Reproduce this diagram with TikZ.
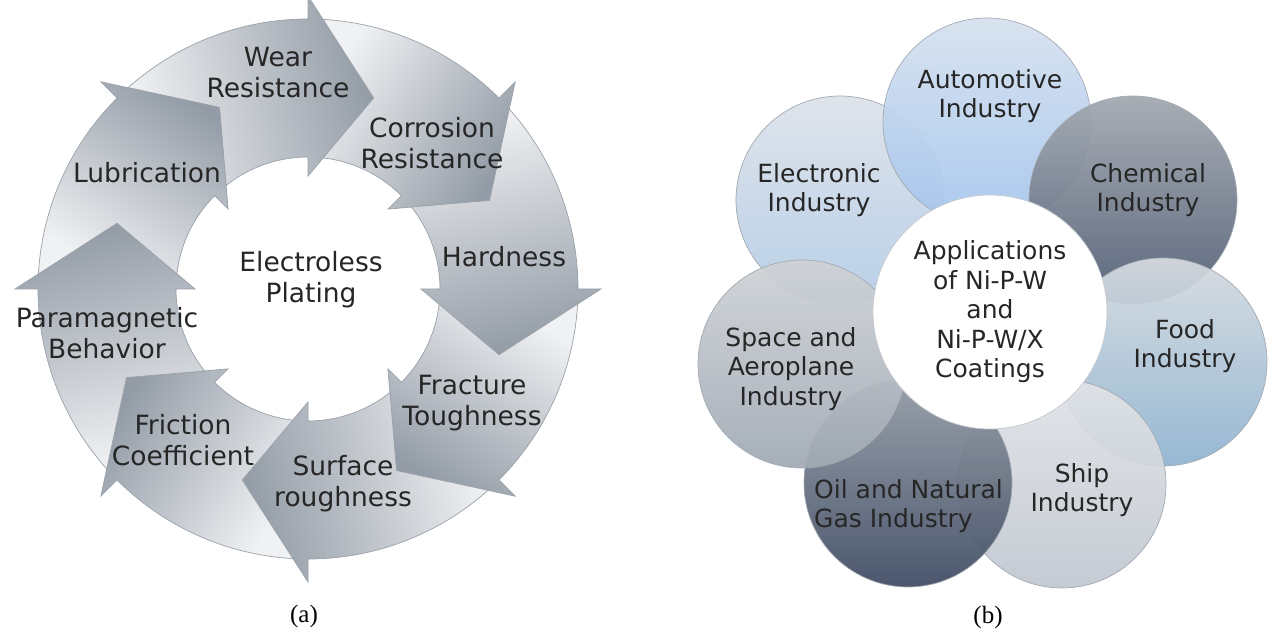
\documentclass[tikz,border=0pt]{standalone}
\usepackage{fontspec}
\usepackage{xcolor}
\newfontfamily\diagfont{DejaVu Sans}
\newfontfamily\capfont{Liberation Serif}
\usetikzlibrary{positioning}

\definecolor{arrowlight}{HTML}{F0F1F3}
\definecolor{arrowdark}{HTML}{939CA6}
\definecolor{arrowedge}{HTML}{9AA1A8}
\definecolor{inktext}{HTML}{262626}
\definecolor{bubbleedge}{HTML}{A3AAB2}
\definecolor{hubedge}{HTML}{C4C9CE}
\definecolor{elecTop}{HTML}{DDE2E9}
\definecolor{elecBot}{HTML}{B4CCE7}
\definecolor{autoTop}{HTML}{D6E1EE}
\definecolor{autoBot}{HTML}{A6C6EE}
\definecolor{chemTop}{HTML}{A3A9B0}
\definecolor{chemBot}{HTML}{505D74}
\definecolor{foodTop}{HTML}{D5DADF}
\definecolor{foodBot}{HTML}{90B4D1}
\definecolor{shipTop}{HTML}{E0E3E7}
\definecolor{shipBot}{HTML}{C2C8D0}
\definecolor{oilTop}{HTML}{939BA5}
\definecolor{oilBot}{HTML}{404C64}
\definecolor{spaceTop}{HTML}{CFD3D7}
\definecolor{spaceBot}{HTML}{A1AAB4}

\begin{document}
\begin{tikzpicture}[x=1pt,y=1pt,
    arrowpart/.style={draw=arrowedge,line width=0.7pt,left color=arrowlight,right color=arrowdark},
    cyclbl/.style={align=center,text=inktext,font=\diagfont\fontsize{26.5}{31}\selectfont},
    bubble/.style={circle,draw=bubbleedge,line width=0.7pt,inner sep=0pt,minimum size=208pt,fill opacity=0.94},
    bublbl/.style={align=center,text=inktext,font=\diagfont\fontsize{25}{29.5}\selectfont},
    caplbl/.style={font=\capfont\fontsize{25}{30}\selectfont}]
  \useasboundingbox (0,0) rectangle (1276,634);

  % (a) ring of curved arrows
  \begin{scope}[shift={(308,345)}]
    \foreach \a [evaluate=\a as \sa using \a+13] in {90,45,0,-45,-90,-135,180,135}
      \path[arrowpart,shading angle=\sa]
        (\a+38.4:132) -- (\a+26:202) -- (\a+41.8:270)
        arc[start angle=\a+41.8,end angle=\a,radius=270]
        -- (\a:293) -- (\a-19:202) -- (\a:113) -- (\a:132)
        arc[start angle=\a,end angle=\a+38.4,radius=132] -- cycle;
  \end{scope}
  \node[cyclbl] (core) at (311,354) {Electroless\\Plating};
  \node[cyclbl] (wear) at (278,561) {Wear\\Resistance};
  \node[cyclbl] (corr) at (432,491) {Corrosion\\Resistance};
  \node[cyclbl] (hard) at (504,377) {Hardness};
  \node[cyclbl] (frac) at (472,231) {Fracture\\Toughness};
  \node[cyclbl] (surf) at (343,150) {Surface\\roughness};
  \node[cyclbl] (fric) at (183,194) {Friction\\Coefficient};
  \node[cyclbl] (para) at (107,301) {Paramagnetic\\Behavior};
  \node[cyclbl] (lubr) at (147,461) {Lubrication};
  \node[caplbl] (capa) at (304,18) {(a)};

  % (b) overlapping circles
  \node[bubble,top color=elecTop,bottom color=elecBot] (elec) at (840,434) {};
  \node[bubble,top color=autoTop,bottom color=autoBot] (auto) at (987,512) {};
  \node[bubble,top color=chemTop,bottom color=chemBot] (chem) at (1133,434) {};
  \node[bubble,top color=foodTop,bottom color=foodBot] (food) at (1163,272) {};
  \node[bubble,top color=shipTop,bottom color=shipBot] (ship) at (1062,150) {};
  \node[bubble,top color=oilTop,bottom color=oilBot] (oil) at (908,151) {};
  \node[bubble,top color=spaceTop,bottom color=spaceBot] (space) at (802,270) {};
  \node[circle,fill=white,draw=hubedge,line width=0.7pt,minimum size=234pt,inner sep=0pt,bublbl]
    (hub) at (990,322) {Applications\\of Ni-P-W\\and\\Ni-P-W/X\\Coatings};
  \node[bublbl] (autotxt) at (990,538) {Automotive\\Industry};
  \node[bublbl] (chemtxt) at (1148,444) {Chemical\\Industry};
  \node[bublbl] (foodtxt) at (1185,288) {Food\\Industry};
  \node[bublbl] (shiptxt) at (1082,144) {Ship\\Industry};
  \node[bublbl,align=left,anchor=west,inner sep=0pt] (oiltxt) at (814,128) {Oil and Natural\\Gas Industry};
  \node[bublbl] (spacetxt) at (791,265) {Space and\\Aeroplane\\Industry};
  \node[bublbl] (electxt) at (819,444) {Electronic\\Industry};
  \node[caplbl] (capb) at (988,17) {(b)};
\end{tikzpicture}
\end{document}
